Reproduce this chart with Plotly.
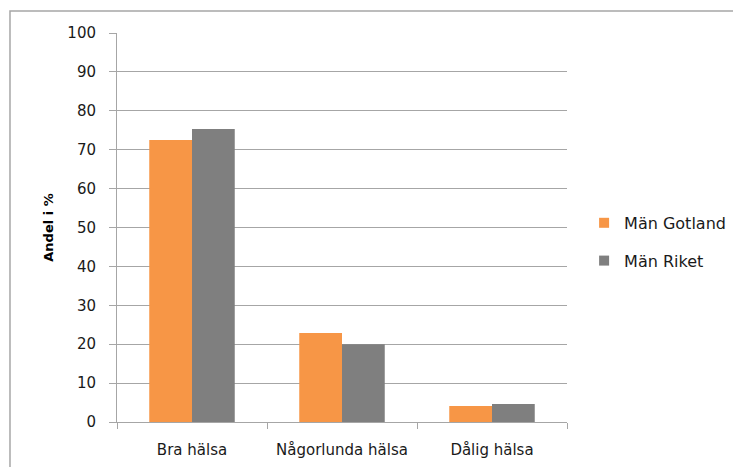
import plotly.graph_objects as go

categories = ["Bra hälsa", "Någorlunda hälsa", "Dålig hälsa"]
gotland = [72.5, 22.9, 4.1]
riket = [75.3, 20.0, 4.6]
series_names = ["Män Gotland", "Män Riket"]
y_ticks = [0, 10, 20, 30, 40, 50, 60, 70, 80, 90, 100]
colors = ["#F79646", "#7F7F7F"]

FONT = "DejaVu Sans"
fig = go.Figure()
for vals, name, col in zip([gotland, riket], series_names, colors):
    fig.add_trace(go.Bar(x=categories, y=vals, name=name,
                         marker=dict(color=col, line=dict(width=0)),
                         showlegend=False))
# legend entries with small square swatches
for i, (name, col) in enumerate(zip(series_names, colors)):
    fig.add_trace(go.Scatter(x=[None], y=[None], mode="markers", name=name,
                             marker=dict(symbol="square", size=10, color=col),
                             legendgroup=str(i)))

fig.update_layout(
    width=733, height=467,
    margin=dict(l=117, r=166, t=33, b=45, autoexpand=False),
    plot_bgcolor="white", paper_bgcolor="white",
    barmode="group", bargap=0.43, bargroupgap=0,
    font=dict(family=FONT, size=15, color="#000000"),
    xaxis=dict(type="category", tickson="boundaries", ticks="outside", ticklen=6,
               tickcolor="#A6A6A6", showline=True, linecolor="#A6A6A6", linewidth=1,
               showgrid=False, tickfont=dict(size=15, family=FONT, color="#1a1a1a"),
               ticklabelstandoff=14),
    yaxis=dict(range=[0, 100], tickvals=y_ticks, ticks="outside", ticklen=7,
               tickcolor="#A6A6A6", showline=True, linecolor="#A6A6A6", linewidth=1,
               showgrid=True, gridcolor="#A6A6A6", gridwidth=1, zeroline=False,
               tickfont=dict(size=15, family=FONT, color="#1a1a1a"),
               ticklabelstandoff=10,
               title=dict(text="<b>Andel i %</b>", font=dict(size=13, family=FONT), standoff=10)),
    legend=dict(x=1.038, y=0.463, xanchor="left", yanchor="middle",
                font=dict(size=16, family=FONT, color="#1a1a1a"), traceorder="grouped",
                tracegroupgap=14, itemwidth=30, bgcolor="rgba(0,0,0,0)"),
    shapes=[dict(type="rect", xref="paper", yref="paper",
                 x0=-0.2378, x1=1.6, y0=-0.2, y1=1.0566,
                 line=dict(color="#A6A6A6", width=1.5), layer="below")],
)

fig.write_html("out.html", config={"displayModeBar": False},
               post_script="document.body.style.margin='0';document.body.style.overflow='hidden';")
